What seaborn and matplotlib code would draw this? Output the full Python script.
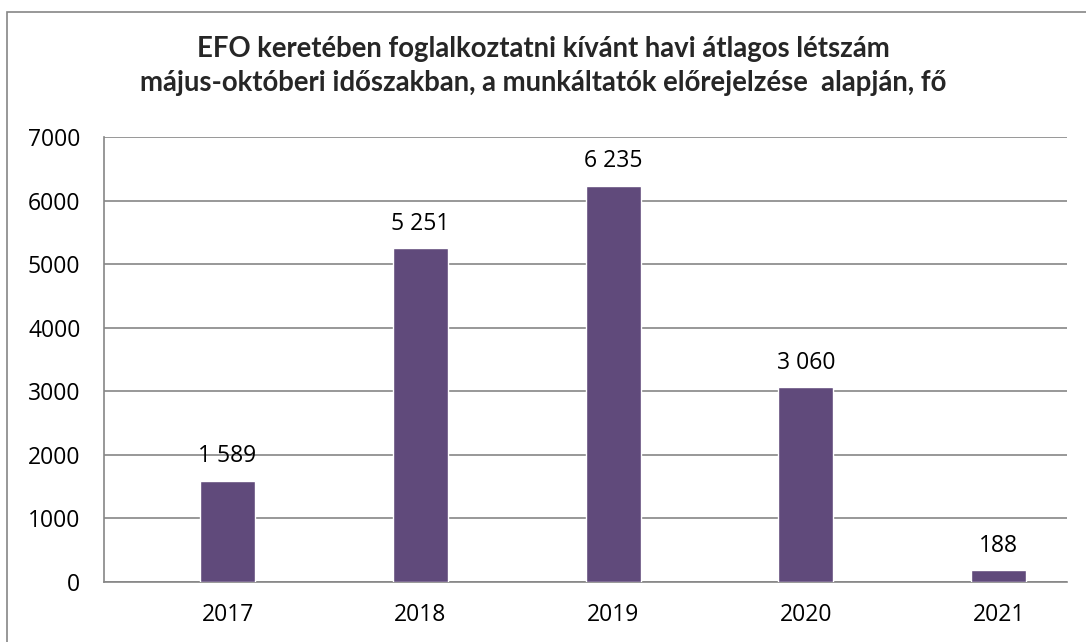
import matplotlib
matplotlib.use("Agg")
import matplotlib.pyplot as plt
import seaborn as sns
import pandas as pd
from matplotlib.patches import Rectangle

years = ["2017", "2018", "2019", "2020", "2021"]
values = [1589, 5251, 6235, 3060, 188]
labels = ["1 589", "5 251", "6 235", "3 060", "188"]
yticks = [0, 1000, 2000, 3000, 4000, 5000, 6000, 7000]
title = ("EFO keretében foglalkoztatni kívánt havi átlagos létszám\n"
         "május-októberi időszakban, a munkáltatók előrejelzése  alapján, fő")

sns.set_theme(style="white")
plt.rcParams['font.family'] = ['Open Sans', 'DejaVu Sans']

W, H = 1086, 642
fig = plt.figure(figsize=(W / 100, H / 100), dpi=100)
ax = fig.add_axes([104 / W, 1 - 582 / H, (1067 - 104) / W, (582 - 137) / H])

df = pd.DataFrame({"year": years, "value": values})
sns.barplot(data=df, x="year", y="value", color="#604A7B", saturation=1,
            width=0.285, ax=ax, zorder=3)

ax.set_xlim(-0.641, 4.355)
ax.set_ylim(0, 7000)
ax.set_yticks(yticks)
ax.set_yticklabels([str(t) for t in yticks])
ax.set_xlabel("")
ax.set_ylabel("")
ax.grid(axis="y", color="#868686", linewidth=1.2, zorder=0)
ax.set_axisbelow(True)
for s in ["top", "right"]:
    ax.spines[s].set_visible(False)
for s in ["left", "bottom"]:
    ax.spines[s].set_color("#868686")
    ax.spines[s].set_linewidth(1.2)
ax.tick_params(axis="both", length=0, labelsize=16.5, colors="black")
ax.tick_params(axis="y", pad=17)
ax.tick_params(axis="x", pad=15)

for i, (v, lab) in enumerate(zip(values, labels)):
    ax.annotate(lab, (i, v), xytext=(0, 9), textcoords="offset points",
                ha="center", va="bottom", fontsize=16.5, color="black")

fig.text(0.5, 1 - 66 / H, title, ha="center", va="center", fontsize=19.8,
         fontweight="bold", linespacing=1.38, family=["Lato", "DejaVu Sans"])

fig.patches.append(Rectangle((7 / W, -0.05), 1.2, 1 - 12 / H + 0.05,
                             transform=fig.transFigure, fill=False,
                             edgecolor="#868686", linewidth=1.2))

fig.savefig("out.png", dpi=100)
